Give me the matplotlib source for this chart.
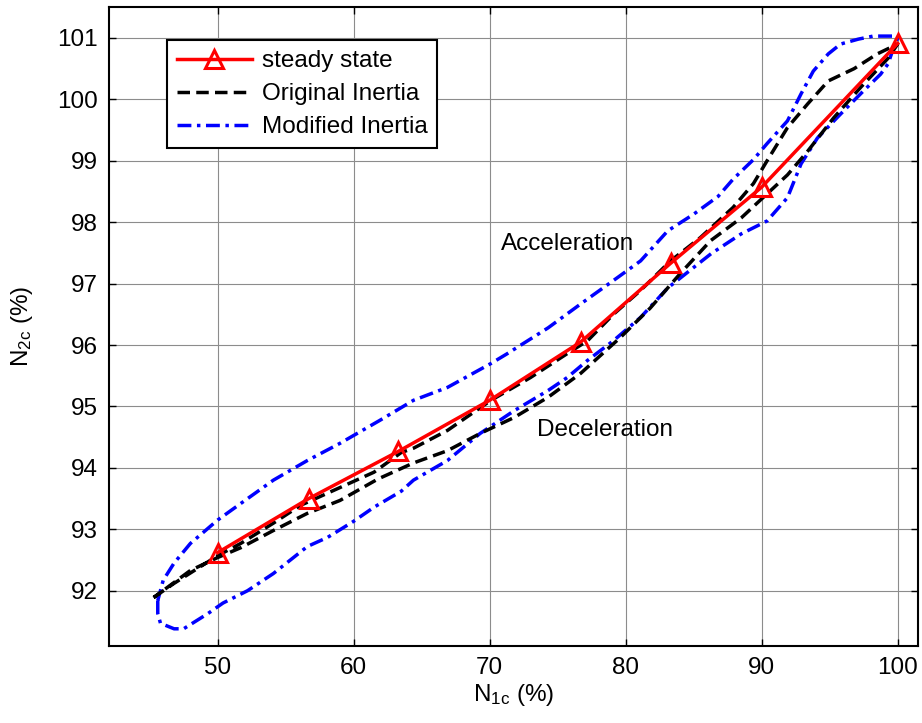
import matplotlib
matplotlib.use('Agg')
import matplotlib.pyplot as plt

plt.rcParams['font.family'] = ['Liberation Sans', 'DejaVu Sans']
plt.rcParams['mathtext.default'] = 'regular'

# steady state working line
ss_n1 = [50, 56.7, 63.3, 70, 76.7, 83.3, 90, 100]
ss_n2 = [92.62, 93.5, 94.27, 95.1, 96.05, 97.33, 98.57, 100.91]

# original inertia: acceleration branch then deceleration branch
orig_n1 = [45.3, 46.8, 50, 51.7, 54.1, 56.1, 59, 61.5, 63.5, 64.4, 66.9, 70.1, 73,
           75.7, 77.2, 79.1, 81.1, 83.3, 85.5, 87.9, 89.4, 90.4, 91.9, 93.4, 94.9,
           96.8, 98.5, 100,
           99.3, 97.3, 95.3, 93.4, 91.9, 90.1, 88.5, 86.25, 84.0, 81.8, 79.6, 76.7,
           74.3, 71.8, 69.3, 66.9, 64.4, 61.8, 59.0, 56.6, 54.1, 51.7, 50, 48.0, 45.3]
orig_n2 = [91.89, 92.12, 92.57, 92.77, 93.1, 93.39, 93.68, 93.93, 94.25, 94.32, 94.61,
           95.1, 95.47, 95.86, 96.07, 96.5, 96.89, 97.37, 97.75, 98.24, 98.63, 99.0,
           99.54, 99.93, 100.3, 100.5, 100.74, 100.9,
           100.67, 100.2, 99.7, 99.16, 98.77, 98.4, 98.07, 97.7, 97.16, 96.6, 96.12,
           95.54, 95.15, 94.82, 94.56, 94.28, 94.08, 93.82, 93.47, 93.26, 92.98, 92.7,
           92.54, 92.33, 91.89]

# modified inertia: closed loop
mod_n1 = [45.6, 45.6, 45.8, 46.8, 47.5, 49.3, 50.4, 52.2, 54.1, 56.6, 58.1, 60, 61.5,
          63.5, 64.4, 66.9, 69.3, 71.8, 74.3, 75.7, 77.2, 79.1, 81.1, 83.1, 86.3,
          88.5, 90.4, 91.9, 92.9, 94.1, 95.8, 97.5, 98.75, 99.3, 99.7, 100,
          99.7, 98.2, 97.1, 95.8, 94.9, 93.8, 92.9, 91.9, 90.4, 89.4, 87.9, 86.8,
          85.0, 83.1, 81.1, 79.1, 76.7, 74.3, 71.3, 70.1, 66.9, 64.4, 61.9, 59, 56.6,
          54.1, 51.7, 50, 48, 46.8, 46.0, 45.6]
mod_n2 = [91.84, 91.63, 91.47, 91.38, 91.38, 91.63, 91.8, 92.0, 92.28, 92.72, 92.87,
          93.13, 93.36, 93.62, 93.8, 94.12, 94.56, 94.93, 95.26, 95.47, 95.75, 96.07,
          96.45, 96.93, 97.49, 97.81, 98.02, 98.4, 98.95, 99.37, 99.76, 100.14,
          100.41, 100.58, 100.84, 101.0,
          101.03, 101.03, 100.98, 100.9, 100.74, 100.46, 100.09, 99.65, 99.28, 99.02,
          98.7, 98.42, 98.13, 97.86, 97.37, 97.05, 96.67, 96.28, 95.86, 95.7, 95.31,
          95.1, 94.77, 94.4, 94.12, 93.8, 93.42, 93.15, 92.77, 92.45, 92.17, 91.84]

fig = plt.figure(figsize=(9.22, 7.23), dpi=100)
ax = fig.add_axes([0.118, 0.1065, 0.8777, 0.8835])

ax.plot(ss_n1, ss_n2, color='red', lw=2.5, marker='^', ms=13, mfc='none',
        mew=2.2, label='steady state', zorder=5)
ax.plot(orig_n1, orig_n2, color='black', lw=2.5, ls=(0, (3.6, 1.8)),
        label='Original Inertia', zorder=4)
ax.plot(mod_n1, mod_n2, color='blue', lw=2.5, ls=(0, (4, 1.6, 1, 1.6)),
        label='Modified Inertia', zorder=3)

ax.text(70.8, 97.65, 'Acceleration', fontsize=17.5, va='center')
ax.text(73.5, 94.62, 'Deceleration', fontsize=17.5, va='center')

ax.set_xlim(42, 101.5)
ax.set_ylim(91.1, 101.5)
ax.set_xticks([50, 60, 70, 80, 90, 100])
ax.set_yticks(range(92, 102))
ax.grid(True, color='0.55', lw=0.8)
ax.tick_params(direction='in', top=True, right=True, length=5, width=1,
               labelsize=17.5, pad=8)
for s in ax.spines.values():
    s.set_linewidth(1.5)

ax.set_xlabel('N$_{1c}$ (%)', fontsize=17.5, labelpad=2)
ax.set_ylabel('N$_{2c}$ (%)', fontsize=17.5, labelpad=16)

leg = ax.legend(loc='upper left', bbox_to_anchor=(0.072, 0.948), borderaxespad=0,
                fontsize=17.5, fancybox=False, framealpha=1, edgecolor='black',
                handlelength=3.1, handletextpad=0.4, labelspacing=0.45,
                borderpad=0.4)
leg.get_frame().set_linewidth(1.5)

fig.savefig('out.png', dpi=100)
